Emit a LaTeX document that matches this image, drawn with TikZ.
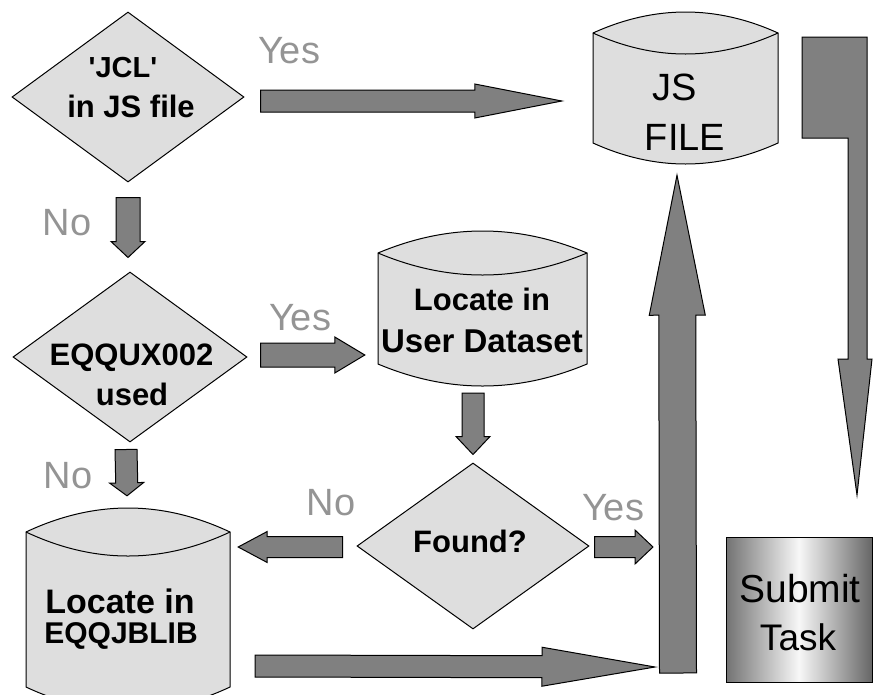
\documentclass[tikz,border=0pt]{standalone}
\usepackage{fontspec}
\newfontfamily\arial{Liberation Sans}
\usetikzlibrary{calc,shapes.geometric}

\definecolor{shapefill}{gray}{0.87}
\definecolor{arrowfill}{gray}{0.5}
\definecolor{labelgray}{gray}{0.58}

% straight single quote, bypassing the TeX quote mapping
\newcommand\sq{\XeTeXglyph\XeTeXcharglyph"27\relax}

\tikzset{
  outline/.style={draw=black, line width=1pt, line join=miter},
  decision/.style={shape=diamond, outline, fill=shapefill, inner sep=0pt},
  cylbox/.style={inner sep=0pt},
  blockarrow/.style={outline, fill=arrowfill},
  boldtxt/.style={anchor=base, inner sep=0pt, text=black},
  plaintxt/.style={anchor=base, inner sep=0pt, text=black},
  answer/.style={anchor=base, inner sep=0pt, text=labelgray,
    font=\arial\fontsize{38}{38}\selectfont},
}
\newcommand\fs[1]{\arial\fontsize{#1}{#1}\selectfont}

% block arrow: start, tip, half shaft width, half head width, head length
\newcommand\flowarrow[5]{%
  \coordinate (hb) at ($(#2)!#5pt!(#1)$);
  \draw[blockarrow] ($(#1)!#3pt!90:(#2)$) -- ($(hb)!#3pt!-90:(#1)$)
    -- ($(hb)!#4pt!-90:(#1)$) -- (#2) -- ($(hb)!#4pt!90:(#1)$)
    -- ($(hb)!#3pt!90:(#1)$) -- ($(#1)!#3pt!-90:(#2)$) -- cycle;}

% dataset drum: left x, right x, top side y, bottom side y, sagitta
\newcommand\dbcyl[5]{%
  \draw[outline, fill=shapefill]
    (#1,#3) .. controls ({#1+(#2-#1)/3},{#3-4*#5/3}) and ({#2-(#2-#1)/3},{#3-4*#5/3}) .. (#2,#3)
    -- (#2,#4) .. controls ({#2-(#2-#1)/3},{#4+4*#5/3}) and ({#1+(#2-#1)/3},{#4+4*#5/3}) .. (#1,#4)
    -- cycle;
  \draw[outline]
    (#1,#3) .. controls ({#1+(#2-#1)/3},{#3+4*#5/3}) and ({#2-(#2-#1)/3},{#3+4*#5/3}) .. (#2,#3);}

\begin{document}
\begin{tikzpicture}[x=1pt, y=-1pt]
\useasboundingbox (0,0) rectangle (873,694);
\clip (0,0) rectangle (873,694);

% ---- decisions ----
\node[decision, minimum width=232pt, minimum height=170pt] (q1) at (128,97) {};
\node[decision, minimum width=234pt, minimum height=170pt] (q2) at (130,357) {};
\node[decision, minimum width=232pt, minimum height=166pt] (q3) at (473,546) {};

% ---- datasets ----
\dbcyl{593}{778}{33}{143}{21}
\node[cylbox, minimum width=185pt, minimum height=153pt] (jsf) at (685.5,86.5) {};
\dbcyl{378}{587}{253}{364}{22}
\node[cylbox, minimum width=209pt, minimum height=158pt] (uds) at (482.5,309) {};
\dbcyl{26}{230}{532}{687}{24}
\node[cylbox, minimum width=204pt, minimum height=204pt] (jbl) at (128,607) {};

% ---- submit ----
\node[outline, inner sep=0pt, minimum width=146pt, minimum height=145pt,
  left color=black!55, right color=black!60, middle color=black!3] (submit) at (799,609.5) {};

% ---- texts ----
\node[boldtxt, font=\fs{29}\bfseries] (q1a) at (123,77) {\sq JCL\sq};
\node[boldtxt, font=\fs{31}\bfseries] (q1b) at (131,117) {in JS file};
\node[boldtxt, font=\fs{31}\bfseries] (q2a) at (131.5,365) {EQQUX002};
\node[boldtxt, font=\fs{31}\bfseries] (q2b) at (132,405) {used};
\node[boldtxt, font=\fs{31}\bfseries] (q3a) at (470,552) {Found?};
\node[boldtxt, font=\fs{31}\bfseries] (uds1) at (482,310) {Locate in};
\node[boldtxt, font=\fs{33}\bfseries] (uds2) at (482,352) {User Dataset};
\node[boldtxt, font=\fs{34}\bfseries] (jbl1) at (120,613) {Locate in};
\node[boldtxt, font=\fs{30}\bfseries] (jbl2) at (121,643) {EQQJBLIB};
\node[plaintxt, font=\fs{38}] (jsf1) at (675,100) {JS};
\node[plaintxt, font=\fs{38}] (jsf2) at (685,150) {FILE};
\node[plaintxt, font=\fs{39}] (sub1) at (800,602) {Submit};
\node[plaintxt, font=\fs{37}] (sub2) at (798,650) {Task};

% ---- answers ----
\node[answer] (y1) at (289,63) {Yes};
\node[answer] (y2) at (300,330) {Yes};
\node[answer] (y3) at (613,520) {Yes};
\node[answer] (n1) at (67,235) {No};
\node[answer] (n2) at (68,488) {No};
\node[answer] (n3) at (331,515) {No};

% ---- flow arrows ----
\coordinate (upbase) at (678,673);
\coordinate (a1s) at ($(q1.east)+(16,4)$);
\coordinate (a1t) at ($(jsf.west)+(-31,14.5)$);
\flowarrow{a1s}{a1t}{11}{17}{87}
\coordinate (a2s) at ($(q1.south)+(0,15)$);
\coordinate (a2t) at ($(q2.north)+(-2,-14)$);
\flowarrow{a2s}{a2t}{12}{17}{16}
\coordinate (a3s) at ($(q2.east)+(13,-2)$);
\coordinate (a3t) at ($(uds.west)+(-13,46)$);
\flowarrow{a3s}{a3t}{12}{18}{30}
\coordinate (a4s) at ($(q2.south)+(-4,7)$);
\coordinate (a4t) at ($(jbl.north)+(-1,-9)$);
\flowarrow{a4s}{a4t}{11}{17}{13}
\coordinate (a5s) at ($(uds.south)+(-9.5,5)$);
\coordinate (a5t) at ($(q3.north)+(0,-8)$);
\flowarrow{a5s}{a5t}{11}{17}{18}
\coordinate (a6s) at ($(q3.west)+(-14,1)$);
\coordinate (a6t) at ($(jbl.east)+(8,-60)$);
\flowarrow{a6s}{a6t}{10.5}{15.5}{29}
\coordinate (a7s) at ($(q3.east)+(5,1)$);
\coordinate (a7t) at ($(upbase)+(-25,-126)$);
\flowarrow{a7s}{a7t}{10.5}{17}{18}
\coordinate (a8s) at ($(jbl.east)+(25,59)$);
\coordinate (a8t) at ($(upbase)+(-23,-6)$);
\flowarrow{a8s}{a8t}{11}{19.5}{113}
\coordinate (a9t) at ($(jsf.south)+(-8.5,12)$);
\flowarrow{upbase}{a9t}{18.5}{28}{140}

% ---- hand-off from the JS file down to the submit box ----
\draw[blockarrow] (802,37) -- (867,37) -- (867,359) -- (872,359) -- (857,495)
  -- (838,359) -- (848,359) -- (848,138) -- (802,138) -- cycle;
\end{tikzpicture}
\end{document}
